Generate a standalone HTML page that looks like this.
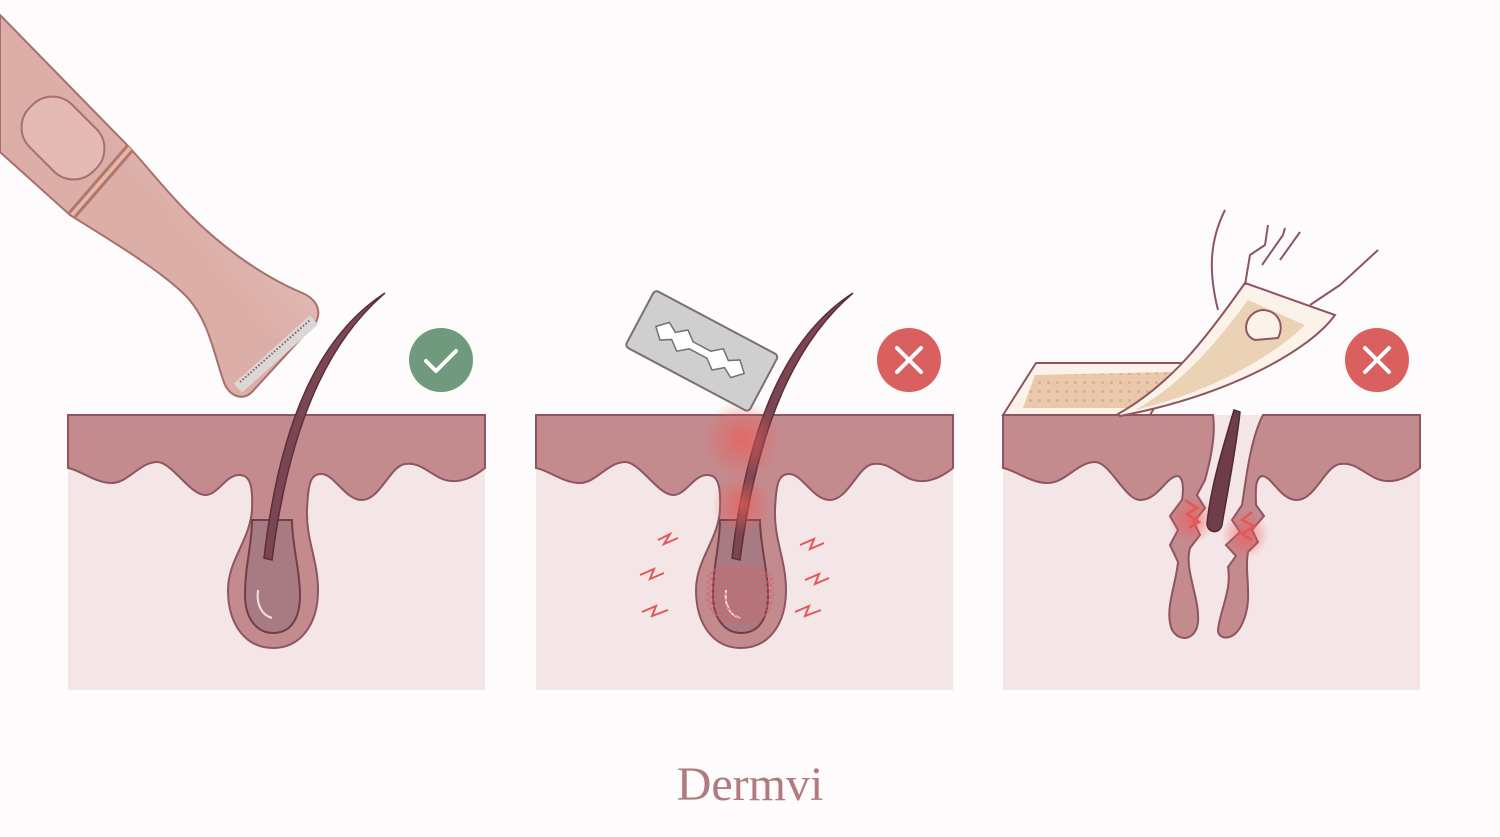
<!DOCTYPE html>
<html><head><meta charset="utf-8"><style>
html,body{margin:0;padding:0;background:#fdfbfb;}
svg{display:block}
</style></head><body>
<svg width="1500" height="837" viewBox="0 0 1500 837" xmlns="http://www.w3.org/2000/svg">
<defs>
<linearGradient id="tg" x1="0" y1="0" x2="1" y2="-1">
<stop offset="0" stop-color="#dcaea8"/><stop offset="0.5" stop-color="#f1d3cd"/><stop offset="1" stop-color="#d9aaa3"/>
</linearGradient>
<radialGradient id="red" cx="0.5" cy="0.5" r="0.5"><stop offset="0" stop-color="#ee5a55" stop-opacity="0.7"/><stop offset="1" stop-color="#ee5a55" stop-opacity="0"/></radialGradient>
<pattern id="hatch" width="6" height="6" patternUnits="userSpaceOnUse"><path d="M0,0 L6,6 M6,0 L0,6" stroke="#d9606a" stroke-width="0.8"/></pattern>
<pattern id="dots" width="9" height="9" patternUnits="userSpaceOnUse"><rect width="9" height="9" fill="#e9c9a9"/><circle cx="4.5" cy="4.5" r="1.5" fill="#d9ae94"/></pattern>
<g id="panel">
<rect x="68" y="415" width="417" height="275" fill="#f4e6e6"/>
<path d="M68,415 H485 V468 C470,480 455,485 440,478 C425,470 418,462 405,464 C390,466 380,500 362,500 C345,500 335,475 322,474 C310,473 308,485 307,510 C306,540 318,560 318,590 C318,625 300,648 273,648 C246,648 228,625 228,590 C228,560 250,540 252,510 C253,485 250,474 238,475 C225,476 218,495 205,495 C190,495 172,462 157,462 C140,462 128,483 112,483 C95,483 80,470 68,468 Z" fill="#c48b8f" stroke="#8e5560" stroke-width="2"/>
<path d="M68,415 H485" stroke="#8e5560" stroke-width="2"/>
<path d="M252,520 C252,545 245,565 245,595 C245,620 258,633 273,633 C290,633 300,620 300,595 C300,570 292,545 292,520 Z" fill="#a87b82" stroke="#6f3f4a" stroke-width="2"/>
<path d="M258,590 C256,605 262,615 272,618" stroke="#f4e0e2" stroke-width="2" fill="none"/>
</g>
</defs>

<!-- Trimmer -->
<path d="M0,15 L130,148 C150,170 165,190 190,215 C220,245 260,275 300,292 C316,298 322,310 316,322 L252,392 C244,400 232,398 225,385 C215,360 210,320 185,295 C160,270 110,240 70,215 L0,152 Z" fill="url(#tg)" stroke="#a8706c" stroke-width="2"/>
<path d="M130,148 L72,215" stroke="#b0776c" stroke-width="10"/>
<path d="M130,148 L72,215" stroke="#e6b7a8" stroke-width="4"/>
<rect x="18" y="108" width="90" height="60" rx="28" transform="rotate(45 63 138)" fill="#e3bab4" stroke="#a8706c" stroke-width="2"/>
<path d="M238,388 L314,320" stroke="#dcd7d7" stroke-width="12"/>
<path d="M240,382 L310,320" stroke="#8a5a5e" stroke-width="2" stroke-dasharray="1.5 2"/>

<use href="#panel"/>
<use href="#panel" transform="translate(468,0)"/>

<!-- panel 3 torn -->
<rect x="1003" y="415" width="417" height="275" fill="#f4e6e6"/>
<path d="M1003,415 H1213 C1216,435 1210,462 1205,480 L1197,495 L1205,508 L1194,522 L1200,535 L1190,548 C1184,570 1200,598 1198,622 C1196,640 1180,643 1172,630 C1164,610 1176,585 1178,562 L1170,545 L1178,530 L1170,516 L1182,500 C1184,488 1183,476 1177,476 C1165,478 1158,500 1140,500 C1125,500 1110,462 1095,462 C1078,462 1065,483 1048,483 C1030,483 1015,470 1003,468 Z" fill="#c48b8f" stroke="#8e5560" stroke-width="2"/>
<path d="M1263,415 H1420 V468 C1405,480 1390,485 1375,478 C1360,470 1353,462 1340,464 C1325,466 1315,500 1297,500 C1280,500 1272,476 1262,476 C1254,478 1256,495 1256,505 L1264,516 L1252,530 L1258,542 L1248,552 C1244,575 1254,600 1242,624 C1234,642 1218,640 1218,630 C1220,610 1232,590 1228,567 L1236,556 L1226,545 L1240,532 L1232,520 L1242,505 C1246,480 1250,440 1263,415 Z" fill="#c48b8f" stroke="#8e5560" stroke-width="2"/>
<circle cx="1192" cy="520" r="24" fill="url(#red)"/><circle cx="1245" cy="535" r="24" fill="url(#red)"/>
<path d="M1240,412 C1236,450 1226,500 1222,525 C1220,534 1208,534 1207,524 C1210,490 1222,450 1234,410 Z" fill="#6f3d49" stroke="#4f2a35" stroke-width="1.5"/>

<!-- hairs -->
<path d="M385,293 C330,340 290,420 272,560 L264,558 C280,420 320,335 385,293 Z" fill="#7b4652" stroke="#5a2f3b" stroke-width="1.5"/>
<path d="M853,293 C798,340 758,420 740,560 L732,558 C748,420 788,335 853,293 Z" fill="#7b4652" stroke="#5a2f3b" stroke-width="1.5"/>

<!-- panel 2 irritation -->
<circle cx="742" cy="440" r="40" fill="url(#red)"/>
<circle cx="742" cy="505" r="30" fill="url(#red)"/>
<path d="M708,575 C700,610 715,625 740,625 C765,625 780,610 772,575 C765,560 715,560 708,575 Z" fill="url(#hatch)" opacity="0.8"/>
<g stroke="#e0585a" stroke-width="2" fill="none">
<path d="M658,540 l12,-6 l-6,10 l14,-6"/><path d="M640,575 l14,-6 l-4,10 l14,-6"/><path d="M642,612 l14,-6 l-4,10 l16,-6"/>
<path d="M800,545 l14,-6 l-4,10 l14,-6"/><path d="M805,580 l14,-6 l-4,10 l14,-6"/><path d="M795,612 l14,-6 l-4,10 l16,-6"/>
</g>
<!-- razor -->
<g transform="rotate(28 700 350)">
<rect x="632" y="318" width="140" height="64" rx="4" fill="#cfcfd0" stroke="#7a6e70" stroke-width="2"/>
<path d="M650,350 l10,-10 l10,6 l10,-8 l10,8 l20,0 l10,-8 l10,8 l10,-6 l10,10 l-10,10 l-10,-6 l-10,8 l-10,-8 l-20,0 l-10,8 l-10,-8 l-10,6 Z" fill="#fff" stroke="#7a6e70" stroke-width="1.5"/>
</g>

<!-- panel 3 wax -->
<path d="M1003,415 L1036,363 L1182,363 L1150,415 Z" fill="#fbf3ea" stroke="#8e5560" stroke-width="2"/>
<path d="M1035,375 L1172,372 L1140,408 L1023,408 Z" fill="url(#dots)"/>
<path d="M1118,414 C1170,385 1205,340 1245,283 L1335,315 C1310,350 1230,395 1120,416 Z" fill="#fbf3ea" stroke="#8e5560" stroke-width="2"/>
<path d="M1135,410 C1180,385 1215,345 1248,300 L1305,325 C1280,350 1220,390 1135,410 Z" fill="#ecd2b5"/>
<g stroke="#8e5560" stroke-width="2" fill="none" stroke-linejoin="round">
<path d="M1225,210 C1210,240 1208,270 1218,310"/>
<path d="M1245,285 L1250,255 L1265,245 L1268,225"/><path d="M1262,265 L1283,235 L1285,228"/><path d="M1280,260 L1300,232"/>
<path d="M1310,305 L1340,285 L1378,250"/>
<path d="M1255,340 C1240,335 1245,312 1262,310 C1278,310 1285,325 1278,338 Z" fill="#fbf3ea"/>
</g>
<g stroke="#e0585a" stroke-width="2.5" fill="none"><path d="M1185,500 l12,8 l-10,6 l12,8 l-10,6"/><path d="M1252,512 l-10,8 l12,6 l-12,8 l10,6"/></g>

<!-- badges -->
<circle cx="441" cy="360" r="32" fill="#6f9a7e"/>
<path d="M426,361 l10,10 l20,-20" stroke="#fff" stroke-width="4" fill="none" stroke-linecap="round" stroke-linejoin="round"/>
<circle cx="909" cy="360" r="32" fill="#d9605f"/>
<path d="M897,348 l24,24 M921,348 l-24,24" stroke="#fff" stroke-width="4" stroke-linecap="round"/>
<circle cx="1377" cy="360" r="32" fill="#d9605f"/>
<path d="M1365,348 l24,24 M1389,348 l-24,24" stroke="#fff" stroke-width="4" stroke-linecap="round"/>

<text x="750" y="800" text-anchor="middle" font-family="'Liberation Serif', serif" font-size="48" fill="#b07b80">Dermvi</text>
</svg>
</body></html>
